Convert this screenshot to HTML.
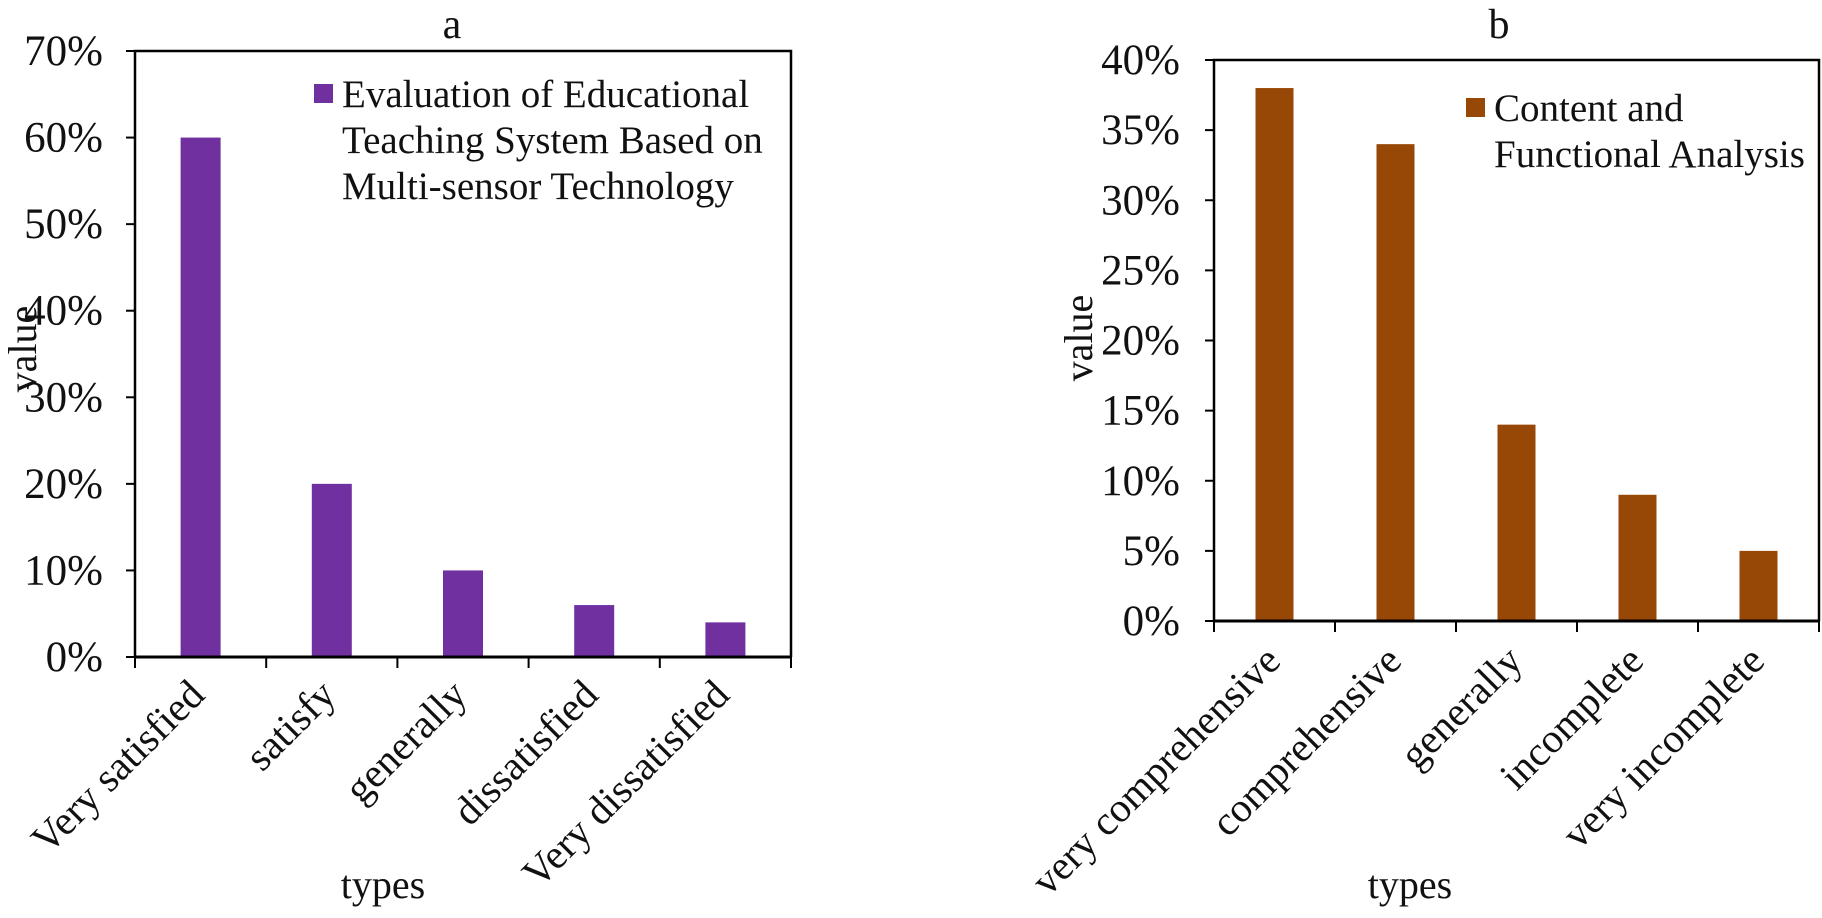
<!DOCTYPE html>
<html><head><meta charset="utf-8">
<style>
html,body{margin:0;padding:0;background:#fff;}
svg{display:block;font-family:"Liberation Serif","Times New Roman",serif;}
</style></head>
<body>
<svg id="fig" width="1822" height="918" viewBox="0 0 1822 918" xmlns="http://www.w3.org/2000/svg"></svg>
<script>
// Chart a data
const catsA = ["Very satisfied","satisfy","generally","dissatisfied","Very dissatisfied"];
const valsA = [60,20,10,6,4];
const ticksA = [0,10,20,30,40,50,60,70];
// Chart b data
const catsB = ["very comprehensive","comprehensive","generally","incomplete","very incomplete"];
const valsB = [38,34,14,9,5];
const ticksB = [0,5,10,15,20,25,30,35,40];

const NS = "http://www.w3.org/2000/svg";
const svg = document.getElementById('fig');
function mk(tag, attrs, parent, text){
  const e = document.createElementNS(NS, tag);
  for (const k in attrs) e.setAttribute(k, attrs[k]);
  if (text !== undefined) e.textContent = text;
  (parent||svg).appendChild(e);
  return e;
}

function drawChart(cfg){
  const g = mk('g', {});
  
  
  const {x0,x1,y0,y1,max,cats,vals,ticks,color,barW} = cfg;
  const ys = v => y0 - (v/max)*(y0-y1);
  const bw = (x1-x0)/cats.length;
  const xs = i => x0 + bw*(i+0.5);

  const t = mk('text', {x:cfg.titleX, y:38, 'font-size':42, 'text-anchor':'middle', fill:'#111'}, g, cfg.title);
  
  

  vals.forEach((v,i)=>{
    const r = mk('rect', {x:xs(i)-barW/2, y:ys(v), width:barW, height:y0-ys(v), fill:color}, g);
    
    
  });

  const fr = mk('path', {d:`M${x0},${y0} L${x0},${y1} L${x1},${y1} L${x1},${y0}`, fill:'none', stroke:'#000', 'stroke-width':2.5}, g);
  
  
  const xa = mk('line', {x1:x0, y1:y0, x2:x1, y2:y0, stroke:'#000', 'stroke-width':3}, g);
  
  

  ticks.forEach(v=>{
    const y = ys(v);
    const tl = mk('line', {x1:x0-9, y1:y, x2:x0, y2:y, stroke:'#000', 'stroke-width':2}, g);
    
    
    const lb = mk('text', {x:cfg.labelRight, y:y+14, 'font-size':43, 'text-anchor':'end', fill:'#111'}, g, v + '%');
    
    
  });

  for (let i=0;i<=cats.length;i++){
    const x = x0 + bw*i;
    const tl = mk('line', {x1:x, y1:y0, x2:x, y2:y0+11, stroke:'#000', 'stroke-width':2}, g);
    
    
  }
  cats.forEach((c,i)=>{
    const ax = xs(i)+cfg.lblDx, ay = y0+cfg.lblDy;
    const lb = mk('text', {x:ax, y:ay, 'font-size':41, 'text-anchor':'end', fill:'#111', transform:`rotate(-45 ${ax} ${ay})`}, g, c);
    
    
  });

  const yt = mk('text', {x:cfg.yTitleX, y:cfg.yTitleY, 'font-size':40, 'text-anchor':'middle', fill:'#111', transform:`rotate(-90 ${cfg.yTitleX} ${cfg.yTitleY})`}, g, 'value');
  
  
  const xt = mk('text', {x:cfg.xTitleX, y:898, 'font-size':40, 'text-anchor':'middle', fill:'#111'}, g, 'types');
  
  

  const lg = mk('g', {}, g);
  
  
  const sw = mk('rect', {x:cfg.legX, y:cfg.legY, width:19, height:19, fill:color}, lg);
  
  
  cfg.legLines.forEach((ln,k)=>{
    const lt = mk('text', {x:cfg.legTextX, y:cfg.legBase + k*cfg.legStep, 'font-size':cfg.legFont, fill:'#111'}, lg, ln);
    
    
  });
}

drawChart({name:'chart-a', title:'a', titleX:452, x0:135, x1:791, y0:657, y1:51, max:70,
  cats:catsA, vals:valsA, ticks:ticksA, color:'#7030A0', barW:40, labelRight:103,
  lblDx:6, lblDy:40, yTitleX:36, yTitleY:349, xTitleX:383,
  legX:314, legY:84, legTextX:342, legBase:107, legStep:46, legFont:39,
  legLines:['Evaluation of Educational','Teaching System Based on','Multi-sensor Technology']});

drawChart({name:'chart-b', title:'b', titleX:1499, x0:1214, x1:1819, y0:621, y1:60, max:40,
  cats:catsB, vals:valsB, ticks:ticksB, color:'#974706', barW:38, labelRight:1180,
  lblDx:8, lblDy:42, yTitleX:1092, yTitleY:338, xTitleX:1410,
  legX:1466, legY:98, legTextX:1494, legBase:121, legStep:46, legFont:39,
  legLines:['Content and','Functional Analysis']});
</script>
</body></html>
